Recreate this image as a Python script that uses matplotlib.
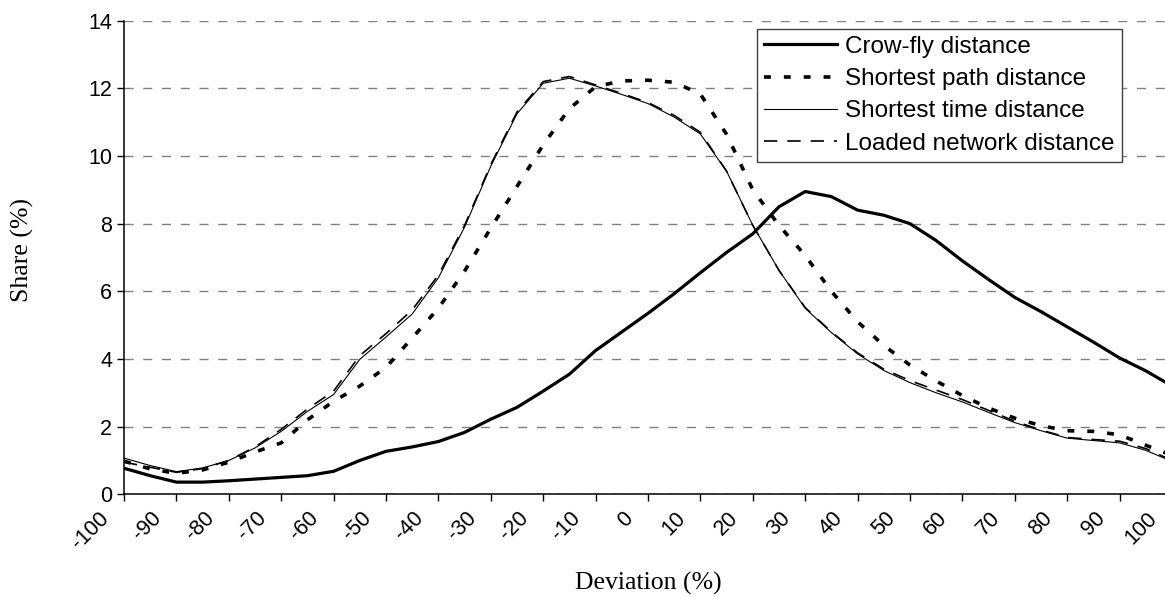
import matplotlib
matplotlib.use("Agg")
import matplotlib.pyplot as plt
from matplotlib.transforms import ScaledTranslation

# deviation (%) categories
deviation = list(range(-100, 101, 5))

crow_fly = [0.77, 0.55, 0.36, 0.36, 0.40, 0.45, 0.50, 0.55, 0.68, 1.00,
            1.27, 1.40, 1.56, 1.83, 2.22, 2.57, 3.05, 3.55, 4.25, 4.80,
            5.35, 5.93, 6.55, 7.15, 7.70, 8.50, 8.95, 8.80, 8.40, 8.25,
            8.00, 7.50, 6.90, 6.35, 5.82, 5.40, 4.95, 4.50, 4.03, 3.65, 3.20]
shortest_path = [0.98, 0.75, 0.62, 0.72, 0.95, 1.25, 1.52, 2.20, 2.75, 3.20,
                 3.75, 4.62, 5.50, 6.60, 7.87, 9.10, 10.33, 11.40, 12.05, 12.22,
                 12.24, 12.18, 11.83, 10.64, 9.00, 7.95, 7.06, 6.00, 5.10, 4.40,
                 3.82, 3.35, 2.92, 2.55, 2.25, 2.03, 1.88, 1.86, 1.76, 1.45, 1.15]
shortest_time = [1.07, 0.85, 0.67, 0.78, 1.00, 1.37, 1.86, 2.45, 2.95, 3.99,
                 4.65, 5.33, 6.40, 7.90, 9.70, 11.25, 12.15, 12.30, 12.07, 11.82,
                 11.55, 11.15, 10.65, 9.55, 7.95, 6.62, 5.50, 4.78, 4.15, 3.66,
                 3.30, 3.00, 2.73, 2.42, 2.12, 1.88, 1.66, 1.59, 1.52, 1.30, 0.97]
loaded_network = [0.95, 0.80, 0.65, 0.76, 1.00, 1.40, 1.92, 2.52, 3.05, 4.10,
                  4.75, 5.45, 6.48, 7.95, 9.75, 11.30, 12.20, 12.35, 12.10, 11.85,
                  11.58, 11.20, 10.70, 9.55, 7.95, 6.62, 5.52, 4.80, 4.18, 3.70,
                  3.36, 3.08, 2.80, 2.48, 2.16, 1.90, 1.68, 1.62, 1.57, 1.35, 1.00]

x_ticks = list(range(-100, 101, 10))
y_ticks = list(range(0, 15, 2))

W, H = 1165, 597
fig = plt.figure(figsize=(W / 100, H / 100), dpi=100)
# axes deliberately runs a little past the right edge, like the original
ax = fig.add_axes([124 / W, 1 - 494.3 / H, (1172 - 124) / W, (494.3 - 20.7) / H])

ax.plot(deviation, crow_fly, color="black", lw=2.3, label="Crow-fly distance")
ax.plot(deviation, shortest_path, color="black", lw=2.6, ls=(0, (1.9, 3.6)),
        label="Shortest path distance")
ax.plot(deviation, shortest_time, color="black", lw=0.8, label="Shortest time distance")
ax.plot(deviation, loaded_network, color="black", lw=1.2, ls=(0, (8, 6)),
        label="Loaded network distance")

ax.set_xlim(-100, 100)
ax.set_ylim(0, 14)
ax.set_xticks(x_ticks)
ax.set_yticks(y_ticks)
ax.grid(axis="y", color="#808080", lw=1, ls=(0, (6.5, 7)))
ax.set_axisbelow(True)
for s in ["top", "right"]:
    ax.spines[s].set_visible(False)
for s in ["left", "bottom"]:
    ax.spines[s].set_linewidth(1.1)

tick_font = {"family": "Liberation Sans", "size": 15.5}
ax.tick_params(axis="both", direction="out", length=5, width=1, color="black")
ax.tick_params(axis="y", pad=3.6)
ax.set_yticklabels([str(v) for v in y_ticks], fontdict=tick_font)
ax.set_xticklabels([str(v) for v in x_ticks], fontdict=tick_font,
                   rotation=45, ha="right", va="center", rotation_mode="anchor")
shift = ScaledTranslation(-0.18, -0.09, fig.dpi_scale_trans)
for lbl in ax.get_xticklabels():
    lbl.set_transform(lbl.get_transform() + shift)

fig.text(22 / W, 1 - 250 / H, "Share (%)", rotation=90, ha="center", va="center",
         family="Liberation Serif", size=18.5)
fig.text(648 / W, 1 - 583 / H, "Deviation (%)", ha="center", va="center",
         family="Liberation Serif", size=18.5)

leg = ax.legend(loc="upper left", bbox_to_anchor=(756.7 / W, 1 - 28.7 / H),
                bbox_transform=fig.transFigure, borderaxespad=0,
                prop={"family": "Liberation Sans", "size": 17.5},
                handlelength=3.0, handletextpad=0.35, borderpad=0.3,
                labelspacing=0.42, fancybox=False, framealpha=1)
leg.get_frame().set_edgecolor("#404040")
leg.get_frame().set_linewidth(1)

fig.savefig("out.png", dpi=100)
